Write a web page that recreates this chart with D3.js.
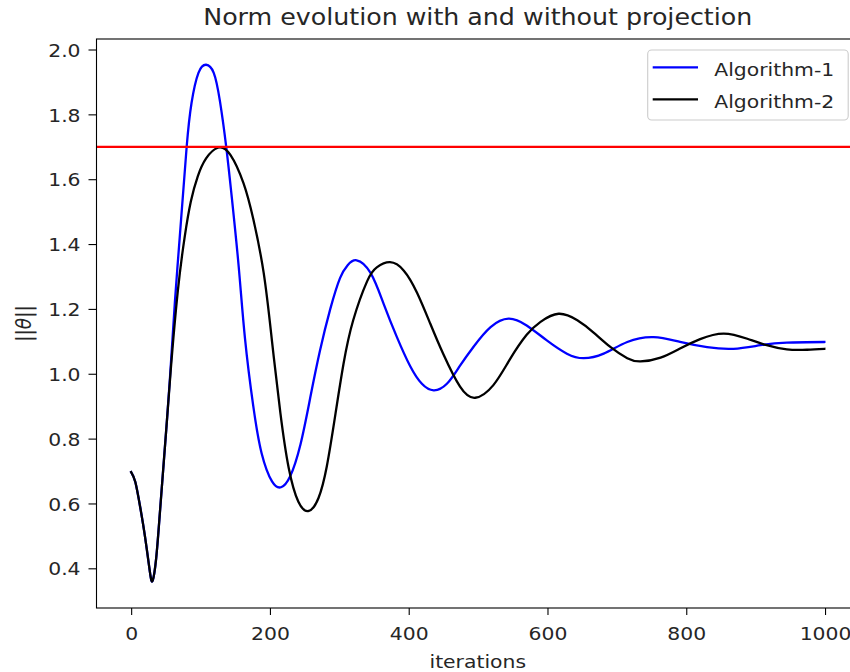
<!DOCTYPE html>
<html><head><meta charset="utf-8">
<script src="https://cdn.jsdelivr.net/npm/d3@7"></script>
<style>
body{margin:0;background:#fff}
svg{display:block;background:#fff}
text{font-family:"DejaVu Sans",sans-serif;fill:#262626}
</style>
</head><body>
<svg id="chart" width="850" height="672"></svg>
<script>
// ---- data ----
const algo1Iter = [0,6,13,20,27,31,36,41,46,51,56,63,72,80,87,97,108,119,128,137,145,155,164,176,188,203,216,229,244,258,272,287,301,312,325,345,364,383,402,419,436,455,474,494,518,544,570,599,628,652,681,715,753,791,830,868,907,945,999];
const algo1Norm = [0.697,0.666,0.589,0.497,0.389,0.362,0.43,0.56,0.70,0.84,0.99,1.22,1.477,1.70,1.835,1.928,1.953,1.928,1.84,1.70,1.545,1.33,1.11,0.90,0.755,0.668,0.650,0.683,0.782,0.925,1.07,1.20,1.295,1.335,1.350,1.311,1.215,1.113,1.024,0.969,0.949,0.969,1.025,1.085,1.144,1.170,1.149,1.103,1.062,1.048,1.062,1.098,1.113,1.098,1.082,1.077,1.088,1.096,1.098];
const algo2Iter = [0,6,13,20,27,31,36,41,46,51,57,67,77,86,96,108,125,143,162,176,191,203,215,227,241,256,270,282,294,306,320,340,354,373,393,412,431,450,474,496,522,546,570,590,616,643,666,691,715,734,763,791,820,854,888,916,945,974,999];
const algo2Norm = [0.697,0.666,0.589,0.497,0.389,0.362,0.43,0.56,0.70,0.84,1.01,1.25,1.42,1.531,1.609,1.664,1.697,1.675,1.587,1.477,1.311,1.10,0.88,0.71,0.605,0.577,0.617,0.715,0.87,1.03,1.165,1.285,1.328,1.344,1.318,1.25,1.155,1.06,0.96,0.926,0.965,1.045,1.12,1.16,1.185,1.165,1.128,1.082,1.048,1.038,1.050,1.078,1.107,1.124,1.108,1.088,1.075,1.074,1.077];
const thresholdValue = 1.7;
const seriesNames = ["Algorithm-1", "Algorithm-2"];
const seriesColors = ["#0000ff", "#000000"];
const thresholdColor = "#ff0000";
const xTicks = [0, 200, 400, 600, 800, 1000];
const yTicks = [0.4, 0.6, 0.8, 1.0, 1.2, 1.4, 1.6, 1.8, 2.0];
const titleText = "Norm evolution with and without projection";
const xLabelText = "iterations";

// ---- layout ----
const plot = {left: 96.5, right: 859, top: 39, bottom: 608};
const SX = 1.1;           // horizontal stretch of the reference picture
const FS = 18.5;
const svg = d3.select("#chart");

const x = d3.scaleLinear().domain([-49.95, 1048.95]).range([plot.left, plot.right]);
const y = d3.scaleLinear().domain([0.2776, 2.0324]).range([plot.bottom, plot.top]);

svg.append("defs").append("clipPath").attr("id", "clip")
  .append("rect").attr("x", plot.left).attr("y", plot.top)
  .attr("width", plot.right - plot.left).attr("height", plot.bottom - plot.top);

const series = [
  {name: seriesNames[0], color: seriesColors[0], pts: algo1Iter.map((d, i) => [d, algo1Norm[i]])},
  {name: seriesNames[1], color: seriesColors[1], pts: algo2Iter.map((d, i) => [d, algo2Norm[i]])}
];

const line = d3.line().x(d => x(d[0])).y(d => y(d[1])).curve(d3.curveNatural);
const gPlot = svg.append("g").attr("clip-path", "url(#clip)");
series.forEach(s => {
  gPlot.append("path").attr("d", line(s.pts)).attr("fill", "none")
    .attr("stroke", s.color).attr("stroke-width", 2.3)
    .attr("stroke-linejoin", "round").attr("stroke-linecap", "square");
});
gPlot.append("line")
  .attr("x1", plot.left).attr("x2", plot.right)
  .attr("y1", y(thresholdValue)).attr("y2", y(thresholdValue))
  .attr("stroke", thresholdColor).attr("stroke-width", 2.3);

// ---- axes ----
const gx = svg.append("g").attr("transform", `translate(0,${plot.bottom})`)
  .call(d3.axisBottom(x).tickValues(xTicks).tickSize(7).tickSizeOuter(0).tickPadding(11.9).tickFormat(d3.format("d")));
gx.select(".domain").remove();
gx.attr("font-size", FS).attr("font-family", "DejaVu Sans").attr("color", "#000");
gx.selectAll(".tick line").attr("stroke-width", 1.1);
gx.selectAll(".tick text").attr("fill", "#262626").attr("transform", `scale(${SX},1)`);

const gy = svg.append("g").attr("transform", `translate(${plot.left},0)`)
  .call(d3.axisLeft(y).tickValues(yTicks).tickSize(8).tickSizeOuter(0).tickPadding(6.5).tickFormat(d3.format(".1f")));
gy.select(".domain").remove();
gy.attr("font-size", FS).attr("font-family", "DejaVu Sans").attr("color", "#000");
gy.selectAll(".tick line").attr("stroke-width", 1.1);
gy.selectAll(".tick text").attr("fill", "#262626").attr("dy", "0.36em").attr("transform", `scale(${SX},1)`);

// spines
const spine = svg.append("g").attr("stroke", "#000").attr("stroke-width", 1.1).attr("fill", "none");
spine.append("rect").attr("x", plot.left).attr("y", plot.top)
  .attr("width", plot.right - plot.left).attr("height", plot.bottom - plot.top);

// ---- texts ----
const cx = (plot.left + plot.right) / 2;
svg.append("text").attr("transform", `translate(${cx},25) scale(${SX},1)`)
  .attr("text-anchor", "middle").attr("font-size", 23).text(titleText);
svg.append("text").attr("transform", `translate(${cx},668) scale(${SX},1)`)
  .attr("text-anchor", "middle").attr("font-size", FS).text(xLabelText);
const yl = svg.append("text")
  .attr("transform", `translate(30.6,${(plot.top + plot.bottom) / 2}) rotate(-90) scale(1,${SX})`)
  .attr("text-anchor", "middle").attr("font-size", FS);
yl.append("tspan").text("||");
yl.append("tspan").attr("font-style", "italic").text("\u03B8");
yl.append("tspan").text("||");

// ---- legend ----
const lg = svg.append("g");
lg.append("rect").attr("x", 647.7).attr("y", 50).attr("width", 200.5).attr("height", 70)
  .attr("rx", 4).attr("fill", "#fff").attr("fill-opacity", 0.8)
  .attr("stroke", "#cccccc").attr("stroke-width", 1.1);
series.forEach((s, i) => {
  const yy = 67.3 + i * 32;
  lg.append("line").attr("x1", 652.7).attr("x2", 698).attr("y1", yy).attr("y2", yy)
    .attr("stroke", s.color).attr("stroke-width", 2.3);
  lg.append("text").attr("transform", `translate(714.3,${yy + 8.4}) scale(${SX},1)`)
    .attr("font-size", FS).text(s.name);
});
</script>
</body></html>
